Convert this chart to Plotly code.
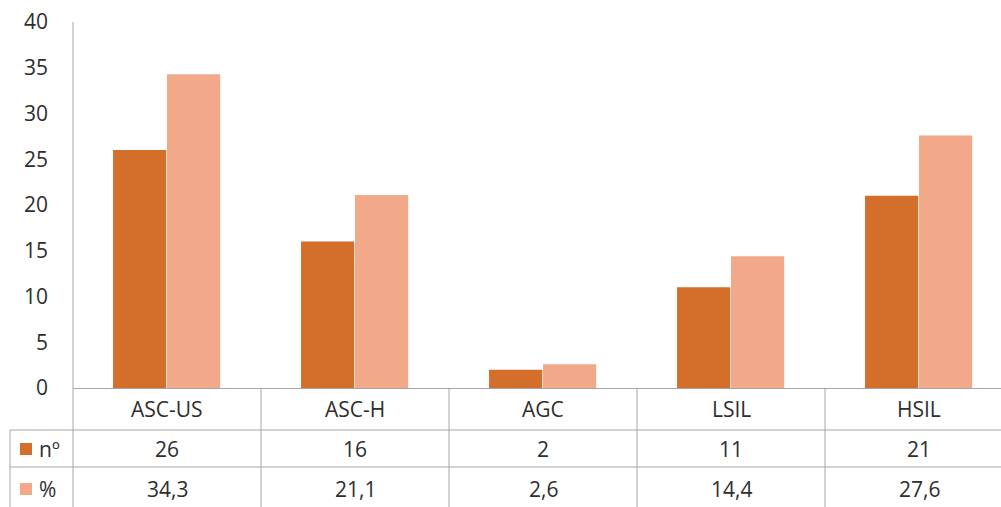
import plotly.graph_objects as go

categories = ["ASC-US", "ASC-H", "AGC", "LSIL", "HSIL"]
n_values = [26, 16, 2, 11, 21]
pct_values = [34.3, 21.1, 2.6, 14.4, 27.6]
n_labels = ["26", "16", "2", "11", "21"]
pct_labels = ["34,3", "21,1", "2,6", "14,4", "27,6"]
series_names = ["nº", "%"]
y_ticks = [0, 5, 10, 15, 20, 25, 30, 35, 40]

C_DARK = "#D36E2B"
C_LIGHT = "#F1A98A"
LINE = "#A6A6A6"
TXT = "#2E2E2E"
FONT = "Open Sans"

W, H = 1001, 507
ML, MT, MB = 73, 22, 119
plot_w = W - ML
plot_h = H - MT - MB
cat_px = 188.0
xmin = -0.5
xmax = xmin + plot_w / cat_px

def px_x(p):
    return (p - ML) / plot_w

def px_y(p):
    return (H - MB - p) / plot_h

def data_x(v):
    return (v - xmin) / (xmax - xmin)

xs = list(range(len(categories)))

fig = go.Figure()
fig.add_trace(go.Bar(x=xs, y=n_values, name=series_names[0], marker_color=C_DARK,
                     width=0.283, offset=-0.287, marker_line_width=0))
fig.add_trace(go.Bar(x=xs, y=pct_values, name=series_names[1], marker_color=C_LIGHT,
                     width=0.283, offset=0.0, marker_line_width=0))

shapes = []
annotations = []
y_bottom = px_y(H)
y_row1 = px_y(430)
y_row2 = px_y(467)
x_left = px_x(10)

# left axis line running through the table
shapes.append(dict(type="line", xref="paper", yref="paper", x0=0, x1=0,
                   y0=y_bottom, y1=1, line=dict(color=LINE, width=1)))
# category separators
for i in range(1, len(categories)):
    xp = data_x(i - 0.5)
    shapes.append(dict(type="line", xref="paper", yref="paper", x0=xp, x1=xp,
                       y0=y_bottom, y1=0, line=dict(color=LINE, width=1)))
# table horizontal lines
for yy in (y_row1, y_row2):
    shapes.append(dict(type="line", xref="paper", yref="paper", x0=x_left, x1=1,
                       y0=yy, y1=yy, line=dict(color=LINE, width=1)))
# outer left border of legend column
shapes.append(dict(type="line", xref="paper", yref="paper", x0=x_left, x1=x_left,
                   y0=y_bottom, y1=y_row1, line=dict(color=LINE, width=1)))

# legend keys
for color, yc in ((C_DARK, 449), (C_LIGHT, 489)):
    shapes.append(dict(type="rect", xref="paper", yref="paper",
                       x0=px_x(20), x1=px_x(32), y0=px_y(yc + 6), y1=px_y(yc - 6),
                       fillcolor=color, line=dict(width=0)))
for name, yc in zip(series_names, (449, 489)):
    annotations.append(dict(xref="paper", yref="paper", x=px_x(37), y=px_y(yc),
                            text=name, showarrow=False, xanchor="left", yanchor="middle",
                            font=dict(family=FONT, size=21, color=TXT)))

row_y = [px_y(409), px_y(449), px_y(489)]
for i, cat in enumerate(categories):
    for txt, yy in zip((cat, n_labels[i], pct_labels[i]), row_y):
        annotations.append(dict(xref="paper", yref="paper", x=data_x(i), y=yy,
                                text=txt, showarrow=False, xanchor="center", yanchor="middle",
                                font=dict(family=FONT, size=21, color=TXT)))

fig.update_layout(
    width=W, height=H,
    margin=dict(l=ML, r=0, t=MT, b=MB, pad=0),
    plot_bgcolor="white", paper_bgcolor="white",
    showlegend=False,
    barmode="overlay",
    shapes=shapes,
    annotations=annotations,
    font=dict(family=FONT, size=21, color=TXT),
    xaxis=dict(range=[xmin, xmax], showticklabels=False, showgrid=False, zeroline=False,
               showline=True, linecolor=LINE, linewidth=1, ticks=""),
    yaxis=dict(range=[0, 40], tickvals=y_ticks, showgrid=False, zeroline=False,
               showline=False, ticks="", ticklabelstandoff=24,
               tickfont=dict(family=FONT, size=21, color=TXT)),
)

fig.write_html("out.html")
